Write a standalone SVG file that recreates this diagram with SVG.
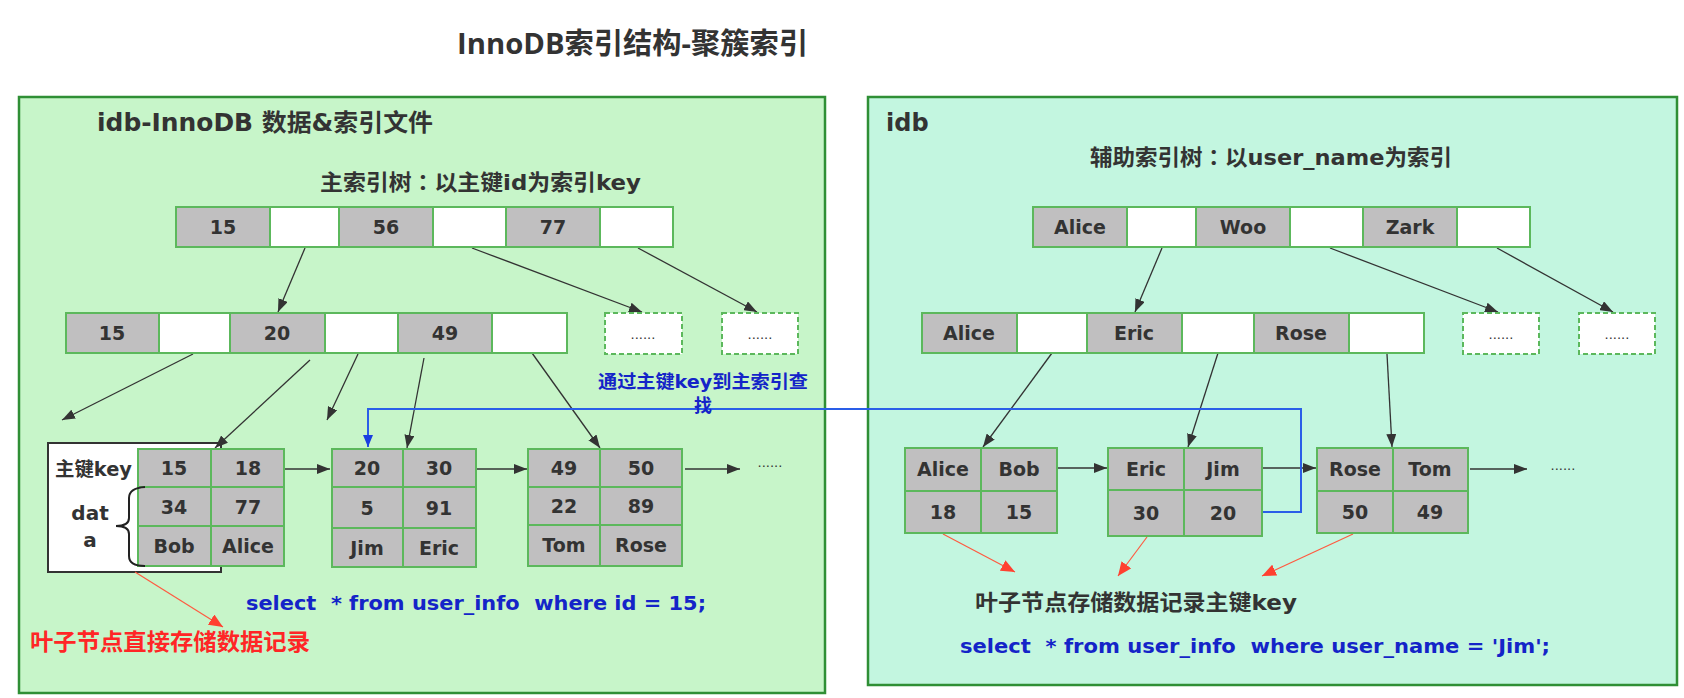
<svg xmlns="http://www.w3.org/2000/svg" width="1684" height="698" viewBox="0 0 1684 698">
<style>
.bg{fill:#ffffff}
.panelL{fill:#c7f5c9;stroke:#2f8f35;stroke-width:2.5}
.panelR{fill:#c3f6e0;stroke:#2f8f35;stroke-width:2.5}
.g{fill:#c0bfc0;stroke:#5cb85c;stroke-width:2}
.w{fill:#ffffff;stroke:#5cb85c;stroke-width:2}
.d{fill:#ffffff;stroke:#5cb85c;stroke-width:2;stroke-dasharray:5,3}
.c{font-family:"DejaVu Sans","Noto Sans CJK SC",sans-serif;font-weight:bold;font-size:19px;fill:#333;text-anchor:middle}
.dots{font-family:"DejaVu Sans",sans-serif;font-size:13px;fill:#333;text-anchor:middle}
.lbl{font-family:"DejaVu Sans","Noto Sans CJK SC",sans-serif;font-weight:bold;fill:#333}
.colon{font-family:"Noto Sans CJK TC",sans-serif}
.title{font-family:"Open Sans","Noto Sans CJK SC",sans-serif;font-weight:bold;font-size:29px;fill:#333}
.blue{font-family:"DejaVu Sans","Noto Sans CJK SC",sans-serif;font-weight:bold;fill:#1424c8}
.red{font-family:"Noto Sans CJK SC",sans-serif;font-weight:bold;fill:#ff2626}
.ln{stroke:#333;stroke-width:1.3;fill:none;marker-end:url(#ah)}
.rl{stroke:#ff5a40;stroke-width:1.2;fill:none;marker-end:url(#rh)}
.bl{stroke:#2a5ee8;stroke-width:2;fill:none;marker-end:url(#bh)}
</style>
<defs>
<marker id="ah" viewBox="0 0 13 10" refX="13" refY="5" markerWidth="13" markerHeight="10" markerUnits="userSpaceOnUse" orient="auto"><path d="M0,0 L13,5 L0,10 z" fill="#333"/></marker>
<marker id="rh" viewBox="0 0 14 12" refX="14" refY="6" markerWidth="14" markerHeight="12" markerUnits="userSpaceOnUse" orient="auto"><path d="M0,0 L14,6 L0,12 z" fill="#ff4030"/></marker>
<marker id="bh" viewBox="0 0 12 10" refX="12" refY="5" markerWidth="12" markerHeight="10" markerUnits="userSpaceOnUse" orient="auto"><path d="M0,0 L12,5 L0,10 z" fill="#1a3ee0"/></marker>
</defs>
<rect class="bg" x="0" y="0" width="1684" height="698"/>
<text class="title" x="457" y="54" textLength="351" lengthAdjust="spacingAndGlyphs">InnoDB索引结构-聚簇索引</text>

<g id="panel-left">
<rect class="panelL" x="19" y="97" width="806" height="596"/>
<text class="lbl" x="97" y="131" font-size="24" textLength="336" lengthAdjust="spacingAndGlyphs">idb-InnoDB 数据&amp;索引文件</text>
<text class="lbl" x="320" y="190" font-size="22" textLength="321" lengthAdjust="spacingAndGlyphs">主索引树<tspan class="colon">：</tspan>以主键id为索引key</text>
</g>
<g id="panel-right">
<rect class="panelR" x="868" y="97" width="809" height="588"/>
<text class="lbl" x="886" y="131" font-size="24">idb</text>
<text class="lbl" x="1090" y="165" font-size="22" textLength="362" lengthAdjust="spacingAndGlyphs">辅助索引树<tspan class="colon">：</tspan>以user_name为索引</text>
</g>

<g id="legend-box">
<rect x="48" y="443" width="173" height="129" fill="#ffffff" stroke="#333" stroke-width="2"/>
<text class="lbl" x="55" y="476" font-size="19" textLength="77" lengthAdjust="spacingAndGlyphs">主键key</text>
<text class="lbl" x="90" y="520" font-size="20" text-anchor="middle">dat</text>
<text class="lbl" x="90" y="547" font-size="20" text-anchor="middle">a</text>
</g>

<g id="connectors">
<line class="ln" x1="305" y1="248" x2="278" y2="312"/>
<line class="ln" x1="472" y1="248" x2="642" y2="312"/>
<line class="ln" x1="638" y1="248" x2="757" y2="312"/>
<line class="ln" x1="1162" y1="248" x2="1135" y2="312"/>
<line class="ln" x1="1330" y1="248" x2="1498" y2="312"/>
<line class="ln" x1="1497" y1="248" x2="1613" y2="312"/>
<line class="ln" x1="193" y1="354" x2="62" y2="420"/>
<line class="ln" x1="310" y1="360" x2="215" y2="448"/>
<line class="ln" x1="358" y1="354" x2="327" y2="420"/>
<line class="ln" x1="424" y1="358" x2="407" y2="448"/>
<line class="ln" x1="532" y1="353" x2="600" y2="448"/>
<line class="ln" x1="1052" y1="353" x2="983" y2="447"/>
<line class="ln" x1="1218" y1="353" x2="1188" y2="447"/>
<line class="ln" x1="1387" y1="354" x2="1392" y2="447"/>
<line class="ln" x1="284" y1="469" x2="330" y2="469"/>
<line class="ln" x1="477" y1="469" x2="527" y2="469"/>
<line class="ln" x1="685" y1="469" x2="740" y2="469"/>
<line class="ln" x1="1057" y1="468" x2="1107" y2="468"/>
<line class="ln" x1="1262" y1="468" x2="1316" y2="468"/>
<line class="ln" x1="1470" y1="469" x2="1527" y2="469"/>
<line class="rl" x1="135" y1="572" x2="223" y2="627"/>
<line class="rl" x1="943" y1="534" x2="1015" y2="572"/>
<line class="rl" x1="1147" y1="537" x2="1118" y2="576"/>
<line class="rl" x1="1353" y1="534" x2="1262" y2="576"/>
<path class="bl" d="M1262,512 H1301 V409 H368 V447"/>
</g>

<g id="root-left">
<rect class="g" x="176" y="207" width="94" height="40"/><rect class="w" x="270" y="207" width="69" height="40"/>
<rect class="g" x="339" y="207" width="94" height="40"/><rect class="w" x="433" y="207" width="73" height="40"/>
<rect class="g" x="506" y="207" width="94" height="40"/><rect class="w" x="600" y="207" width="73" height="40"/>
<text class="c" x="223" y="234">15</text><text class="c" x="386" y="234">56</text><text class="c" x="553" y="234">77</text>
</g>
<g id="inner-left">
<rect class="g" x="66" y="313" width="93" height="40"/><rect class="w" x="159" y="313" width="71" height="40"/>
<rect class="g" x="230" y="313" width="95" height="40"/><rect class="w" x="325" y="313" width="73" height="40"/>
<rect class="g" x="398" y="313" width="94" height="40"/><rect class="w" x="492" y="313" width="75" height="40"/>
<text class="c" x="112" y="340">15</text><text class="c" x="277" y="340">20</text><text class="c" x="445" y="340">49</text>
</g>
<g id="more-left-1"><rect class="d" x="605" y="313" width="77" height="41"/><text class="dots" x="643" y="339">......</text></g>
<g id="more-left-2"><rect class="d" x="722" y="313" width="76" height="41"/><text class="dots" x="760" y="339">......</text></g>

<g id="leaf-left-1">
<rect class="g" x="138" y="449" width="73" height="38"/><rect class="g" x="211" y="449" width="73" height="38"/>
<rect class="g" x="138" y="487" width="73" height="39"/><rect class="g" x="211" y="487" width="73" height="39"/>
<rect class="g" x="138" y="526" width="73" height="40"/><rect class="g" x="211" y="526" width="73" height="40"/>
<text class="c" x="174" y="475">15</text><text class="c" x="248" y="475">18</text>
<text class="c" x="174" y="514">34</text><text class="c" x="248" y="514">77</text>
<text class="c" x="174" y="553">Bob</text><text class="c" x="248" y="553">Alice</text>
</g>
<path d="M145,487 Q129,488 129,498 V518 Q129,526 116,526 Q129,526 129,534 V556 Q129,566 145,566" fill="none" stroke="#222" stroke-width="2"/>
<g id="leaf-left-2">
<rect class="g" x="332" y="449" width="71" height="38"/><rect class="g" x="403" y="449" width="73" height="38"/>
<rect class="g" x="332" y="487" width="71" height="41"/><rect class="g" x="403" y="487" width="73" height="41"/>
<rect class="g" x="332" y="528" width="71" height="39"/><rect class="g" x="403" y="528" width="73" height="39"/>
<text class="c" x="367" y="475">20</text><text class="c" x="439" y="475">30</text>
<text class="c" x="367" y="515">5</text><text class="c" x="439" y="515">91</text>
<text class="c" x="367" y="555">Jim</text><text class="c" x="439" y="555">Eric</text>
</g>
<g id="leaf-left-3">
<rect class="g" x="528" y="449" width="72" height="38"/><rect class="g" x="600" y="449" width="82" height="38"/>
<rect class="g" x="528" y="487" width="72" height="38"/><rect class="g" x="600" y="487" width="82" height="38"/>
<rect class="g" x="528" y="525" width="72" height="41"/><rect class="g" x="600" y="525" width="82" height="41"/>
<text class="c" x="564" y="475">49</text><text class="c" x="641" y="475">50</text>
<text class="c" x="564" y="513">22</text><text class="c" x="641" y="513">89</text>
<text class="c" x="564" y="552">Tom</text><text class="c" x="641" y="552">Rose</text>
</g>
<text class="dots" x="770" y="467">......</text>

<text class="blue" x="598" y="388" font-size="18" textLength="210" lengthAdjust="spacingAndGlyphs">通过主键key到主索引查</text>
<text class="blue" x="703" y="412" font-size="18" text-anchor="middle">找</text>
<text class="blue" x="246" y="610" font-size="20" xml:space="preserve" textLength="460" lengthAdjust="spacingAndGlyphs">select  * from user_info  where id = 15;</text>
<text class="red" x="30" y="650" font-size="23" textLength="280" lengthAdjust="spacingAndGlyphs">叶子节点直接存储数据记录</text>

<g id="root-right">
<rect class="g" x="1033" y="207" width="94" height="40"/><rect class="w" x="1127" y="207" width="69" height="40"/>
<rect class="g" x="1196" y="207" width="94" height="40"/><rect class="w" x="1290" y="207" width="73" height="40"/>
<rect class="g" x="1363" y="207" width="94" height="40"/><rect class="w" x="1457" y="207" width="73" height="40"/>
<text class="c" x="1080" y="234">Alice</text><text class="c" x="1243" y="234">Woo</text><text class="c" x="1410" y="234">Zark</text>
</g>
<g id="inner-right">
<rect class="g" x="922" y="313" width="95" height="40"/><rect class="w" x="1017" y="313" width="70" height="40"/>
<rect class="g" x="1087" y="313" width="95" height="40"/><rect class="w" x="1182" y="313" width="72" height="40"/>
<rect class="g" x="1254" y="313" width="95" height="40"/><rect class="w" x="1349" y="313" width="75" height="40"/>
<text class="c" x="969" y="340">Alice</text><text class="c" x="1134" y="340">Eric</text><text class="c" x="1301" y="340">Rose</text>
</g>
<g id="more-right-1"><rect class="d" x="1463" y="313" width="76" height="41"/><text class="dots" x="1501" y="339">......</text></g>
<g id="more-right-2"><rect class="d" x="1579" y="313" width="76" height="41"/><text class="dots" x="1617" y="339">......</text></g>

<g id="leaf-right-1">
<rect class="g" x="905" y="448" width="76" height="43"/><rect class="g" x="981" y="448" width="76" height="43"/>
<rect class="g" x="905" y="491" width="76" height="42"/><rect class="g" x="981" y="491" width="76" height="42"/>
<text class="c" x="943" y="476">Alice</text><text class="c" x="1019" y="476">Bob</text>
<text class="c" x="943" y="519">18</text><text class="c" x="1019" y="519">15</text>
</g>
<g id="leaf-right-2">
<rect class="g" x="1108" y="448" width="76" height="42"/><rect class="g" x="1184" y="448" width="78" height="42"/>
<rect class="g" x="1108" y="490" width="76" height="46"/><rect class="g" x="1184" y="490" width="78" height="46"/>
<text class="c" x="1146" y="476">Eric</text><text class="c" x="1223" y="476">Jim</text>
<text class="c" x="1146" y="520">30</text><text class="c" x="1223" y="520">20</text>
</g>
<g id="leaf-right-3">
<rect class="g" x="1317" y="448" width="76" height="43"/><rect class="g" x="1393" y="448" width="75" height="43"/>
<rect class="g" x="1317" y="491" width="76" height="42"/><rect class="g" x="1393" y="491" width="75" height="42"/>
<text class="c" x="1355" y="476">Rose</text><text class="c" x="1430" y="476">Tom</text>
<text class="c" x="1355" y="519">50</text><text class="c" x="1430" y="519">49</text>
</g>
<text class="dots" x="1563" y="470">......</text>

<text class="lbl" x="975" y="610" font-size="22" textLength="322" lengthAdjust="spacingAndGlyphs">叶子节点存储数据记录主键key</text>
<text class="blue" x="960" y="653" font-size="20" xml:space="preserve" textLength="590" lengthAdjust="spacingAndGlyphs">select  * from user_info  where user_name = 'Jim';</text>
</svg>
